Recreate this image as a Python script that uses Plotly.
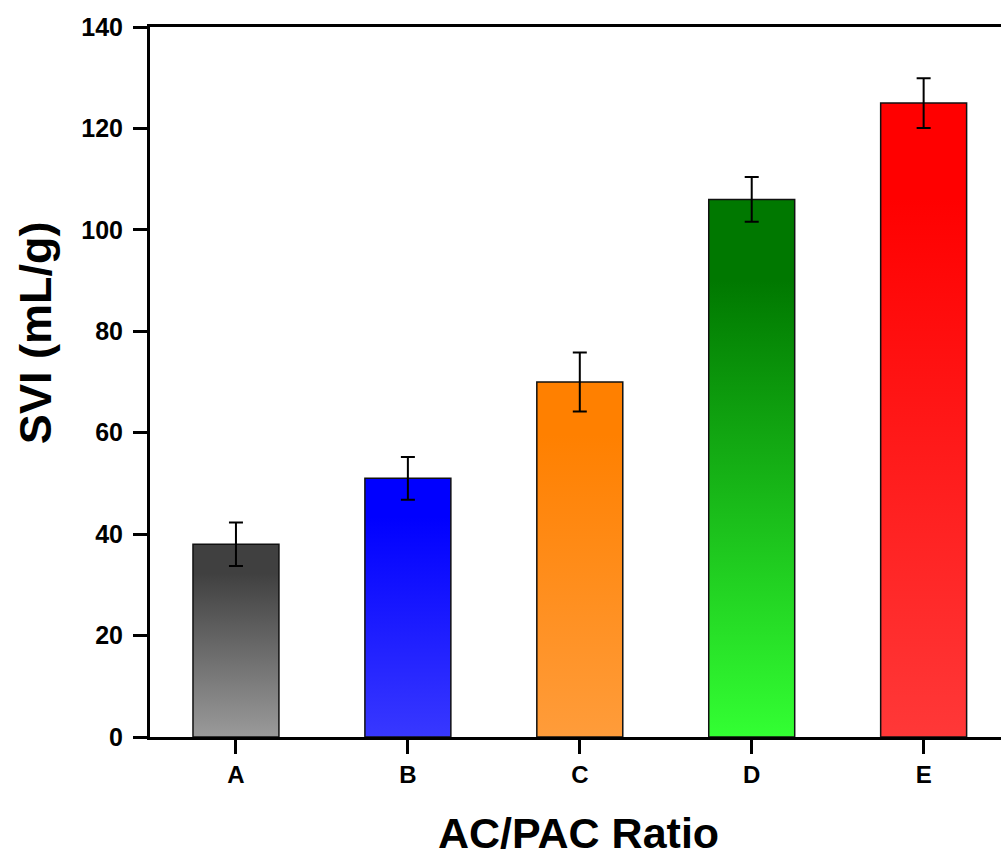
import plotly.graph_objects as go

# ---- data ----
categories = ["A", "B", "C", "D", "E"]
svi = [38, 51, 70, 106, 125]
svi_err = [4.3, 4.2, 5.8, 4.4, 4.9]
y_ticks = [0, 20, 40, 60, 80, 100, 120, 140]
x_title = "AC/PAC Ratio"
y_title = "SVI (mL/g)"

# ---- styles ----
top_colors = ["#404040", "#0000ff", "#ff8000", "#007800", "#ff0000"]
bottom_colors = ["#9a9a9a", "#3838ff", "#ff9c3a", "#33ff33", "#ff3838"]
BAR_W = 0.5
FONT = "Liberation Sans, Arial, sans-serif"

fig = go.Figure()

for i, (cat, v) in enumerate(zip(categories, svi)):
    x0, x1 = i - BAR_W / 2, i + BAR_W / 2
    fig.add_trace(go.Scatter(
        x=[x0, x0, x1, x1, x0],
        y=[0, v, v, 0, 0],
        mode="lines",
        fill="toself",
        fillgradient=dict(
            type="vertical",
            start=0,
            stop=v,
            colorscale=[[0, bottom_colors[i]], [0.85, top_colors[i]], [1, top_colors[i]]],
        ),
        line=dict(color="#111111", width=1.5),
        hoverinfo="skip",
        showlegend=False,
        name=cat,
    ))

fig.add_trace(go.Scatter(
    x=list(range(len(categories))),
    y=svi,
    mode="markers",
    marker=dict(size=1, color="rgba(0,0,0,0)"),
    error_y=dict(type="data", array=svi_err, visible=True,
                 color="black", thickness=2, width=7),
    showlegend=False,
))

fig.update_layout(
    width=1001, height=856,
    margin=dict(l=150, r=0, t=27, b=119),
    paper_bgcolor="white", plot_bgcolor="white",
    font=dict(family=FONT, color="black"),
    xaxis=dict(
        range=[-0.5, 4.45],
        tickvals=list(range(len(categories))),
        ticktext=categories,
        showgrid=False, zeroline=False,
        showline=True, linecolor="black", linewidth=3, mirror=True,
        ticks="outside", ticklen=14, tickwidth=3, tickcolor="black",
        tickfont=dict(family=FONT, size=24, weight="bold"),
    ),
    yaxis=dict(
        range=[0, 140],
        tickvals=y_ticks,
        showgrid=False, zeroline=False,
        showline=True, linecolor="black", linewidth=3, mirror=False,
        ticks="outside", ticklen=14, tickwidth=3, tickcolor="black",
        ticklabelstandoff=5,
        tickfont=dict(family=FONT, size=25, weight="bold"),
    ),
    annotations=[
        dict(text=x_title, xref="paper", yref="paper", x=0.5035, y=-0.135,
             xanchor="center", yanchor="middle", showarrow=False,
             font=dict(family=FONT, size=43, weight="bold", color="black")),
        dict(text=y_title, xref="paper", yref="paper", x=-0.135, y=0.569,
             xanchor="center", yanchor="middle", showarrow=False, textangle=-90,
             font=dict(family=FONT, size=45, weight="bold", color="black")),
    ],
)

fig.write_html("out.html")
